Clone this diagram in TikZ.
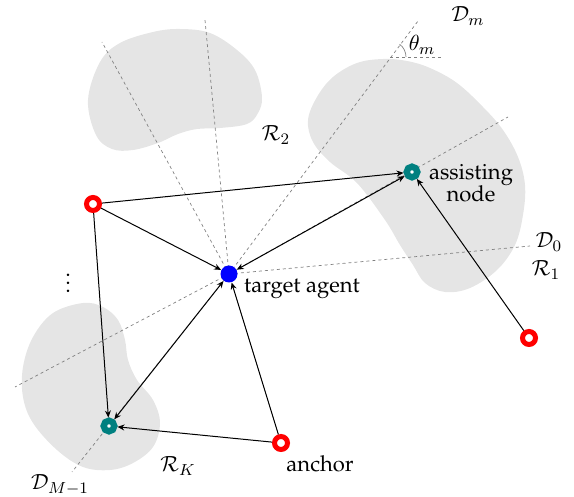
\documentclass[tikz,border=0pt]{standalone}
\usepackage[T1]{fontenc}
\renewcommand{\rmdefault}{ppl}
\usetikzlibrary{arrows.meta}
\definecolor{blobgray}{RGB}{229,229,229}
\definecolor{tealc}{RGB}{0,128,128}
\tikzset{
  blob/.style={fill=blobgray, draw=none},
  ray/.style={draw=gray, line width=0.35pt, dash pattern=on 1.5pt off 1.5pt},
  link/.style={draw=black, line width=0.5pt, -{Stealth[length=3.5pt,width=3pt]}},
  dlink/.style={draw=black, line width=0.5pt, {Stealth[length=3.5pt,width=3pt]}-{Stealth[length=3.5pt,width=3pt]}},
  anchornode/.style={circle, draw=red, line width=2.5pt, fill=white, minimum size=6.5pt, inner sep=0pt},
  assistnode/.style={circle, draw=tealc, line width=3.2pt, fill=white, minimum size=5.3pt, inner sep=0pt},
  targetnode/.style={circle, fill=blue, minimum size=8.5pt, inner sep=0pt},
  lbl/.style={inner sep=0pt, font=\fontsize{11}{13}\selectfont},
}
\begin{document}
\begin{tikzpicture}[x=0.5pt, y=-0.5pt]
\useasboundingbox (0,0) rectangle (574,497);
% blobs
\path[blob] plot[smooth cycle, tension=0.6] coordinates {
 (88,100) (100,62) (120,43) (153,32) (180,29) (210,33) (237,50) (255,70) (262,97)
 (258,113) (247,124) (220,128) (197,129) (178,134) (158,143) (133,150) (112,149) (96,135)};
\path[blob] plot[smooth cycle, tension=0.6] coordinates {
 (308,120) (317,97) (333,77) (357,63) (383,59) (407,61) (430,68) (457,83) (483,107)
 (503,130) (518,157) (525,185) (523,215) (515,245) (497,270) (470,288) (445,292)
 (425,283) (413,265) (400,245) (385,220) (357,183) (330,162) (313,142)};
\path[blob] plot[smooth cycle, tension=0.6] coordinates {
 (83,303) (103,307) (118,320) (125,340) (128,360) (137,380) (153,400) (160,423)
 (153,447) (133,463) (110,470) (83,467) (57,450) (33,423) (23,397) (23,367)
 (33,337) (53,313)};
% rays
\coordinate (T) at (229,274);
\coordinate (r0) at (530,246);
\coordinate (r1) at (508,117);
\coordinate (rm) at (418,21);
\coordinate (r3) at (205,20);
\coordinate (r4) at (102,42);
\coordinate (r5) at (15,387);
\coordinate (r6) at (72,472);
\coordinate (V) at (390,57);
\coordinate (H) at (443,57);
\foreach \e in {r0,r1,rm,r3,r4,r5,r6} \draw[ray] (T) -- (\e);
\draw[ray] (V) -- (H);
\draw[draw=gray, line width=0.35pt] ([shift={(16,0)}]V) arc[start angle=0, end angle=-53, radius=16];
% nodes
\node[targetnode] (t) at (229,274) {};
\node[assistnode] (a1) at (412,172) {};
\node[assistnode] (a2) at (109,426) {};
\node[anchornode] (n1) at (93,204) {};
\node[anchornode] (n2) at (529,338) {};
\node[anchornode] (n3) at (281,443) {};
% connectors
\draw[link] (n1) -- (a1);
\draw[link] (n1) -- (t);
\draw[link] (n1) -- (a2);
\draw[dlink] (t) -- (a1);
\draw[dlink] (t) -- (a2);
\draw[link] (n3) -- (t);
\draw[link] (n3) -- (a2);
\draw[link] (n2) -- (a1);
% labels
\node[lbl, align=center] (la) at (471,183) {assisting\\[-2pt]node};
\node[lbl] (lt) at (302,289) {target agent};
\node[lbl] (ln) at (320,464) {anchor};
\node[lbl] (R2) at (276,135) {$\mathcal{R}_2$};
\node[lbl] (R1) at (546,270) {$\mathcal{R}_1$};
\node[lbl] (RK) at (178,466) {$\mathcal{R}_K$};
\node[lbl] (D0) at (549,242) {$\mathcal{D}_0$};
\node[lbl] (Dm) at (468,16) {$\mathcal{D}_m$};
\node[lbl] (th) at (422,45) {$\theta_m$};
\node[lbl] (DM) at (60,485) {$\mathcal{D}_{M-1}$};
\node[lbl] (dots) at (68,277) {$\vdots$};
\end{tikzpicture}
\end{document}
